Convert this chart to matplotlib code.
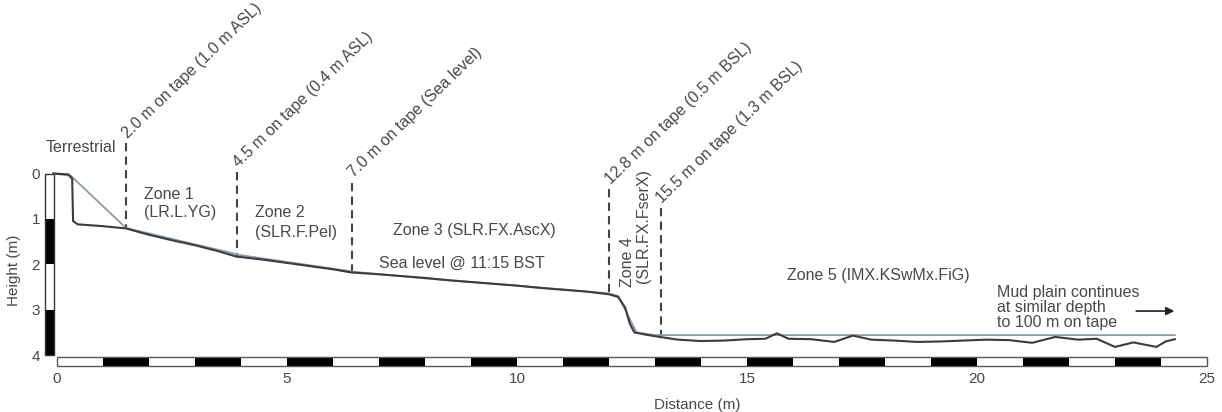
import numpy as np
import matplotlib
matplotlib.use("Agg")
from matplotlib import pyplot as plt
from matplotlib.patches import Rectangle

plt.rcParams["font.family"] = ["Liberation Sans", "DejaVu Sans"]

# survey profiles (distance m, height below datum m)
dist_dark = [-0.08, 0.25, 0.33, 0.35, 0.45, 1.0, 1.5, 2.0, 2.5, 3.0, 3.5, 3.9, 4.5, 5.0, 5.5,
             6.0, 6.4, 7.0, 7.5, 8.0, 8.5, 9.0, 9.5, 10.0, 10.5, 11.0, 11.5, 12.0, 12.2, 12.35,
             12.45, 12.55, 12.8, 13.1, 13.5, 14.0, 14.5, 15.0, 15.4, 15.65, 15.9, 16.4, 16.9,
             17.3, 17.7, 18.2, 18.7, 19.2, 19.7, 20.2, 20.7, 21.2, 21.7, 22.2, 22.6, 23.0, 23.4,
             23.9, 24.1, 24.3]
h_dark = [0.0, 0.02, 0.12, 1.05, 1.12, 1.16, 1.21, 1.35, 1.47, 1.58, 1.71, 1.83, 1.9, 1.97, 2.04,
          2.11, 2.18, 2.22, 2.26, 2.3, 2.35, 2.39, 2.43, 2.47, 2.52, 2.56, 2.6, 2.66, 2.72, 2.95,
          3.3, 3.5, 3.55, 3.6, 3.66, 3.69, 3.68, 3.65, 3.64, 3.52, 3.64, 3.65, 3.71,
          3.57, 3.66, 3.68, 3.71, 3.7, 3.68, 3.66, 3.67, 3.73, 3.6, 3.66, 3.64, 3.82, 3.72,
          3.82, 3.7, 3.65]

dist_light = [-0.08, 0.3, 1.5, 4.0, 6.5, 8.0, 10.0, 12.0, 12.2, 12.4, 12.6, 13.0, 24.3]
h_light = [0.0, 0.05, 1.2, 1.8, 2.17, 2.31, 2.47, 2.64, 2.7, 3.1, 3.5, 3.56, 3.56]

# zone boundaries: position on x axis, top of dashed line, bottom (ground), label
bound_x = [1.5, 3.92, 6.42, 12.0, 13.12]
bound_top = [-0.67, -0.03, 0.2, 0.35, 0.76]
bound_bottom = [1.21, 1.84, 2.19, 2.66, 3.6]
bound_labels = ["2.0 m on tape (1.0 m ASL)", "4.5 m on tape (0.4 m ASL)",
                "7.0 m on tape (Sea level)", "12.8 m on tape (0.5 m BSL)",
                "15.5 m on tape (1.3 m BSL)"]

x_ticks = [0, 5, 10, 15, 20, 25]
y_ticks = [0, 1, 2, 3, 4]

txt = "#484848"
fs = 11.5

fig = plt.figure(figsize=(12.22, 4.12), dpi=100)
ax = fig.add_axes([0, 0, 1, 1])
ax.set_xlim(-57 / 46, (1222 - 57) / 46)
ax.set_ylim((412 - 173.5) / 45.4, -173.5 / 45.4)

# scale bars
for i in range(25):
    ax.add_patch(Rectangle((i, 4.04), 1, 0.2, fc="black" if i % 2 else "white",
                           ec="none", zorder=2))
ax.add_patch(Rectangle((0, 4.04), 25, 0.2, fc="none", ec="#555555", lw=1.0, zorder=3))
for i in range(4):
    ax.add_patch(Rectangle((-0.25, i), 0.18, 1, fc="black" if i % 2 else "white",
                           ec="none", zorder=2))
ax.add_patch(Rectangle((-0.25, 0), 0.18, 4, fc="none", ec="#333333", lw=1.0, zorder=3))

# profiles
ax.plot(dist_light, h_light, c="#8a9cab", lw=1.3, zorder=4)
ax.plot(dist_dark, h_dark, c="#3c3c3c", lw=1.5, zorder=5)

# zone boundaries
for bx, bt, bb, lab in zip(bound_x, bound_top, bound_bottom, bound_labels):
    ax.plot([bx, bx], [bt, bb], c="#444444", lw=1.5, ls=(0, (4, 2.5)), zorder=3)
    ax.text(bx + 0.08, bt - 0.05, lab, rotation=44, rotation_mode="anchor",
            ha="left", va="bottom", fontsize=fs, color=txt)

ax.text(-0.25, -0.58, "Terrestrial", fontsize=fs, color=txt, ha="left", va="center")
ax.text(1.9, 0.47, "Zone 1", fontsize=fs, color=txt, ha="left", va="center")
ax.text(1.9, 0.85, "(LR.L.YG)", fontsize=fs, color=txt, ha="left", va="center")
ax.text(4.3, 0.87, "Zone 2", fontsize=fs, color=txt, ha="left", va="center")
ax.text(4.3, 1.29, "(SLR.F.Pel)", fontsize=fs, color=txt, ha="left", va="center")
ax.text(7.3, 1.25, "Zone 3 (SLR.FX.AscX)", fontsize=fs, color=txt, ha="left", va="center")
ax.text(7.0, 1.97, "Sea level @ 11:15 BST", fontsize=fs, color=txt, ha="left", va="center")
ax.text(12.41, 2.5, "Zone 4", fontsize=fs, color=txt, rotation=90, rotation_mode="anchor",
        ha="left", va="center")
ax.text(12.74, 2.41, "(SLR.FX.FserX)", fontsize=fs, color=txt, rotation=90,
        rotation_mode="anchor", ha="left", va="center")
ax.text(15.87, 2.24, "Zone 5 (IMX.KSwMx.FiG)", fontsize=fs, color=txt, ha="left", va="center")
ax.text(20.43, 2.95, "Mud plain continues\nat similar depth\nto 100 m on tape", fontsize=fs,
        color=txt, ha="left", va="center", linespacing=1.0)
ax.annotate("", xy=(24.35, 3.03), xytext=(23.4, 3.03),
            arrowprops=dict(arrowstyle="-|>", color="#222222", lw=1.2, mutation_scale=12))

# axes: ticks drawn beside the scale bars
for s in ["top", "right"]:
    ax.spines[s].set_visible(False)
ax.spines["bottom"].set_position(("data", 4.24))
ax.spines["left"].set_position(("data", -0.25))
ax.spines["bottom"].set_visible(False)
ax.spines["left"].set_visible(False)
ax.set_xticks(x_ticks)
ax.set_yticks(y_ticks)
ax.tick_params(length=0, labelsize=11, labelcolor=txt)
ax.tick_params(axis="x", pad=4)
ax.tick_params(axis="y", pad=4)
ax.set_xlabel("Distance (m)", fontsize=11, color=txt)
ax.set_ylabel("Height (m)", fontsize=11, color=txt)
ax.xaxis.set_label_coords(697 / 1222, 1 - 398 / 412)
ax.yaxis.set_label_coords(21 / 1222, 1 - 270 / 412)

fig.savefig("out.png", dpi=100)
